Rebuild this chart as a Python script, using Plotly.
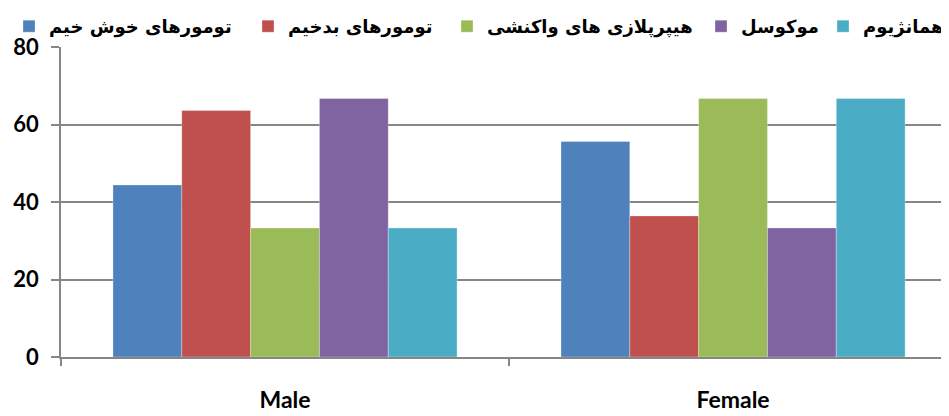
import plotly.graph_objects as go

categories = ["Male", "Female"]
series_names = ["تومورهای خوش خیم", "تومورهای بدخیم", "هیپرپلازی های واکنشی", "موکوسل", "همانژیوم"]
benign = [44.4, 55.6]
malignant = [63.6, 36.4]
hyperplasia = [33.3, 66.7]
mucocele = [66.7, 33.3]
hemangioma = [33.3, 66.7]
colors = ["#4F81BD", "#C0504D", "#9BBB59", "#8064A2", "#4BACC6"]
y_ticks = [0, 20, 40, 60, 80]

series_values = [benign, malignant, hyperplasia, mucocele, hemangioma]
legend_ids = ["legend", "legend2", "legend3", "legend4", "legend5"]
legend_x_px = [1, 240, 439, 693, 941]
legend_anchor = ["left", "left", "left", "left", "right"]

FIG_W, FIG_H = 941, 408

fig = go.Figure()
for name, vals, col, lid in zip(series_names, series_values, colors, legend_ids):
    fig.add_trace(go.Bar(
        x=categories, y=vals, name=name, legend=lid,
        marker=dict(color=col, line=dict(color="rgba(255,255,255,0.5)", width=0.6)),
    ))

legend_style = dict(
    orientation="h", xref="container", yref="container",
    y=1.0, yanchor="top",
    font=dict(family="DejaVu Sans, sans-serif", size=18, weight="bold"),
    bgcolor="rgba(0,0,0,0)",
)
layout_legends = {}
for lid, xp, anc in zip(legend_ids, legend_x_px, legend_anchor):
    layout_legends[lid] = dict(legend_style, x=xp / FIG_W, xanchor=anc)

fig.update_layout(
    width=FIG_W, height=FIG_H,
    margin=dict(l=53, r=0, t=39, b=59, autoexpand=False),
    paper_bgcolor="white", plot_bgcolor="white",
    barmode="group", bargap=0.232, bargroupgap=0,
    font=dict(family="Lato, DejaVu Sans, sans-serif", color="black"),
    showlegend=True,
    **layout_legends,
)
fig.update_xaxes(
    range=[-0.5, 1.482], automargin=False,
    showline=True, linecolor="#868686", linewidth=1.5,
    tickmode="array", tickvals=[0, 1], ticktext=categories,
    tickfont=dict(family="Lato, sans-serif", size=23, weight="bold"),
    ticks="", ticklabelstandoff=22,
    minor=dict(tickmode="array", tickvals=[-0.5, 0.5, 1.5], ticks="outside",
               ticklen=7, tickcolor="#868686", tickwidth=1.5, showgrid=False),
    showgrid=False,
)
fig.update_yaxes(
    range=[0, 80], tickmode="array", tickvals=y_ticks, automargin=False,
    showline=True, linecolor="#868686", linewidth=1.5,
    ticks="outside", ticklen=8, tickcolor="#868686", tickwidth=1.5,
    showgrid=True, gridcolor="#868686", gridwidth=1.5,
    zeroline=False,
    tickfont=dict(family="Lato, sans-serif", size=22, weight="bold"),
    ticklabelstandoff=8,
)

fig.write_html("out.html")
